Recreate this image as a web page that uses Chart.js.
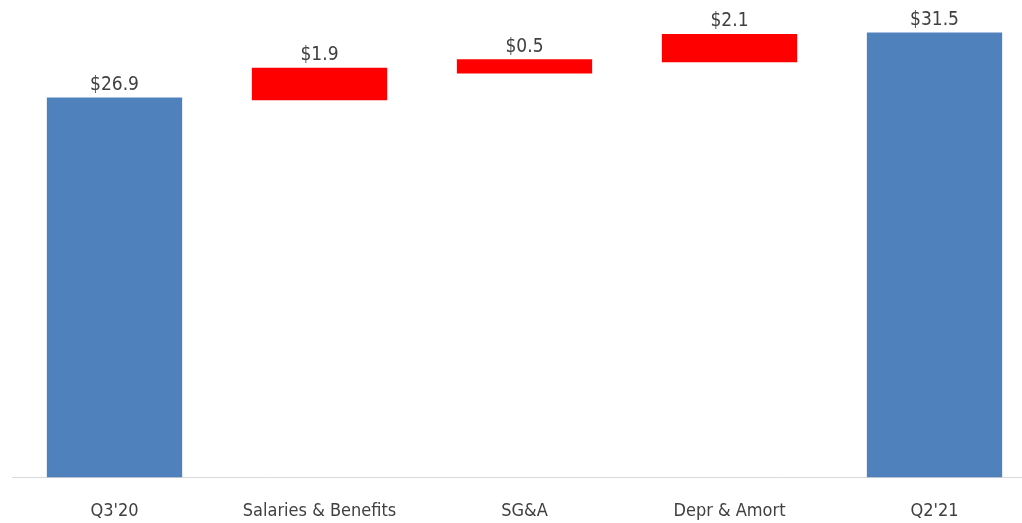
<!DOCTYPE html>
<html>
<head>
<meta charset="utf-8">
<script src="https://cdn.jsdelivr.net/npm/chart.js@4"></script>
<style>
  body { margin: 0; overflow: hidden; background: #fff; }
  #wrap { position: absolute; left: 0; top: 0; width: 1040px; height: 548px; }
</style>
</head>
<body>
<div id="wrap"><canvas id="myChart"></canvas></div>
<script>
// Datos (millones $)
const categories = ["Q3'20", 'Salaries & Benefits', 'SG&A', 'Depr & Amort', "Q2'21"];
const barStarts = [0, 26.7, 28.6, 29.4, 0];
const barEnds = [26.9, 29.0, 29.6, 31.4, 31.5];
const amounts = [26.9, 1.9, 0.5, 2.1, 31.5];
const barColors = ['#4F81BD', '#FF0000', '#FF0000', '#FF0000', '#4F81BD'];

const fontFamily = "'Liberation Sans Narrow', 'DejaVu Sans Condensed', 'Arial Narrow', sans-serif";

// etiquetas encima de cada barra
const valueLabels = {
  id: 'valueLabels',
  afterDatasetsDraw(chart) {
    const ctx = chart.ctx;
    const meta = chart.getDatasetMeta(0);
    ctx.save();
    ctx.font = '19px ' + fontFamily;
    ctx.fillStyle = '#404040';
    ctx.textAlign = 'center';
    ctx.textBaseline = 'bottom';
    meta.data.forEach((bar, i) => {
      ctx.fillText('$' + amounts[i].toFixed(1), bar.x, bar.y - 3);
    });
    ctx.restore();
  }
};

const ctx = document.getElementById('myChart').getContext('2d');
new Chart(ctx, {
  type: 'bar',
  data: {
    labels: categories,
    datasets: [{
      data: barStarts.map((s, i) => [s, barEnds[i]]),
      backgroundColor: barColors,
      borderWidth: 0,
      categoryPercentage: 1,
      barPercentage: 0.66
    }]
  },
  options: {
    responsive: true,
    maintainAspectRatio: false,
    animation: false,
    layout: { padding: { left: 12, right: 3, top: 0, bottom: 3 } },
    plugins: {
      legend: { display: false },
      tooltip: { enabled: false }
    },
    scales: {
      x: {
        grid: { display: false, drawTicks: false },
        border: { display: true, color: '#d9d9d9', width: 1 },
        ticks: {
          color: '#404040',
          padding: 23,
          font: { family: fontFamily, size: 18, lineHeight: 1.2 }
        }
      },
      y: {
        display: false,
        min: 0,
        max: 33.8
      }
    }
  },
  plugins: [valueLabels]
});
</script>
</body>
</html>
